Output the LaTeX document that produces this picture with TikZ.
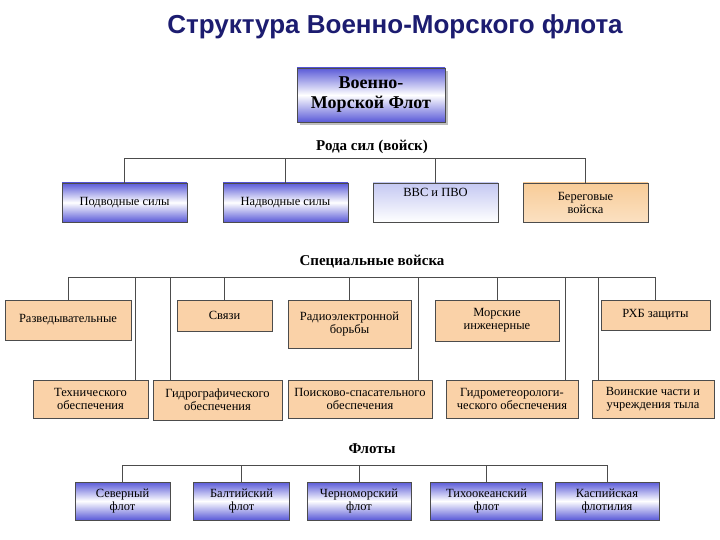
\documentclass[tikz,border=0pt]{standalone}
\usepackage{fontspec}
\setmainfont{Liberation Serif}
\newfontfamily\titlefont{Liberation Sans}
\definecolor{bl}{HTML}{5A5AD8}
\definecolor{lbl}{HTML}{C4C8F2}
\definecolor{org}{HTML}{F8CC98}
\definecolor{org2}{HTML}{FAD2A8}
\definecolor{navy}{HTML}{1C1C70}
\begin{document}
\begin{tikzpicture}[x=1pt,y=-1pt,
  base/.style={draw=black!70, line width=0.6pt, align=center, inner sep=1pt,
    font=\fontsize{12.5}{13}\selectfont},
  bluebox/.style={base, top color=bl, bottom color=bl, middle color=white},
  lbox/.style={base, top color=lbl, bottom color=white},
  obox/.style={base, top color=org, bottom color=org!60!white},
  sbox/.style={base, fill=org2},
  lab/.style={font=\fontsize{15}{16}\selectfont\bfseries},
  ln/.style={draw=black!70, line width=0.6pt}]
\useasboundingbox (0,0) rectangle (720,540);
\node[font=\titlefont\fontsize{26}{28}\selectfont\bfseries, text=navy] (title) at (395,27) {Структура Военно-Морского флота};

% top box
\fill[black!25] (300,71) rectangle (448,125);
\node[bluebox, minimum width=148pt, minimum height=54pt, font=\fontsize{18}{20}\selectfont\bfseries] (vmf) at (371,95) {Военно-\\Морской Флот};

% rows
\node[lab] (rs) at (372,147) {Рода сил (войск)};
\node[bluebox, minimum width=125pt, minimum height=39pt] (pod) at (124.5,202.5) {Подводные силы};
\node[bluebox, minimum width=125pt, minimum height=39pt] (nad) at (285.5,202.5) {Надводные силы};
\node[lbox, minimum width=125pt, minimum height=39pt, text depth=20pt] (vvs) at (435.5,202.5) {ВВС и ПВО};
\node[obox, minimum width=125pt, minimum height=39pt] (ber) at (585.5,202.5) {Береговые\\войска};
\coordinate (r1L) at (124.5,158); \coordinate (r1R) at (585.5,158);
\draw[ln] (r1L) -- (r1R);
\foreach \n in {pod,nad,vvs,ber} \draw[ln] (\n.north) -- (\n.north |- r1L);

\node[lab] (sv) at (372,262) {Специальные войска};
\node[sbox, minimum width=126pt, minimum height=40pt] (razv) at (68,320) {Разведывательные};
\node[sbox, minimum width=95pt, minimum height=31pt] (svz) at (224.5,315.5) {Связи};
\node[sbox, minimum width=123pt, minimum height=48pt] (reb) at (349.5,324) {Радиоэлектронной\\борьбы};
\node[sbox, minimum width=124pt, minimum height=41pt] (mor) at (497,320.5) {Морские\\инженерные};
\node[sbox, minimum width=109pt, minimum height=30pt] (rxb) at (655.5,315) {РХБ защиты};
\node[sbox, minimum width=115pt, minimum height=38pt] (teh) at (90.5,399) {Технического\\обеспечения};
\node[sbox, minimum width=129pt, minimum height=40pt] (gidr) at (217.5,400) {Гидрографического\\обеспечения};
\node[sbox, minimum width=144pt, minimum height=38pt] (pois) at (360,399) {Поисково-спасательного\\обеспечения};
\node[sbox, minimum width=132pt, minimum height=38pt] (gm) at (512,399) {Гидрометеорологи-\\ческого обеспечения};
\node[sbox, minimum width=122pt, minimum height=38pt] (voin) at (653,399) {Воинские части и\\учреждения тыла};
\coordinate (r2L) at (68,277); \coordinate (r2R) at (655.5,277);
\draw[ln] (r2L) -- (r2R);
\foreach \n in {razv,svz,reb,mor,rxb} \draw[ln] (\n.north) -- (\n.north |- r2L);
\foreach \x/\n in {135/teh,170/gidr,418/pois,565/gm,598/voin}{
  \coordinate (d\n) at (\x,277);
  \draw[ln] (d\n) -- (d\n |- \n.north);}

\node[lab] (fl) at (372,449) {Флоты};
\node[bluebox, minimum width=95pt, minimum height=38pt] (sev) at (122.5,501) {Северный\\флот};
\node[bluebox, minimum width=96pt, minimum height=38pt] (balt) at (241.5,501) {Балтийский\\флот};
\node[bluebox, minimum width=104pt, minimum height=38pt] (cher) at (359,501) {Черноморский\\флот};
\node[bluebox, minimum width=112pt, minimum height=38pt] (tih) at (486.5,501) {Тихоокеанский\\флот};
\node[bluebox, minimum width=104pt, minimum height=38pt] (kasp) at (607,501) {Каспийская\\флотилия};
\coordinate (r3L) at (120,465); \coordinate (r3R) at (607,465);
\draw[ln] (sev.north |- r3L) -- (kasp.north |- r3L);
\foreach \n in {sev,balt,cher,tih,kasp} \draw[ln] (\n.north) -- (\n.north |- r3L);
\end{tikzpicture}
\end{document}
